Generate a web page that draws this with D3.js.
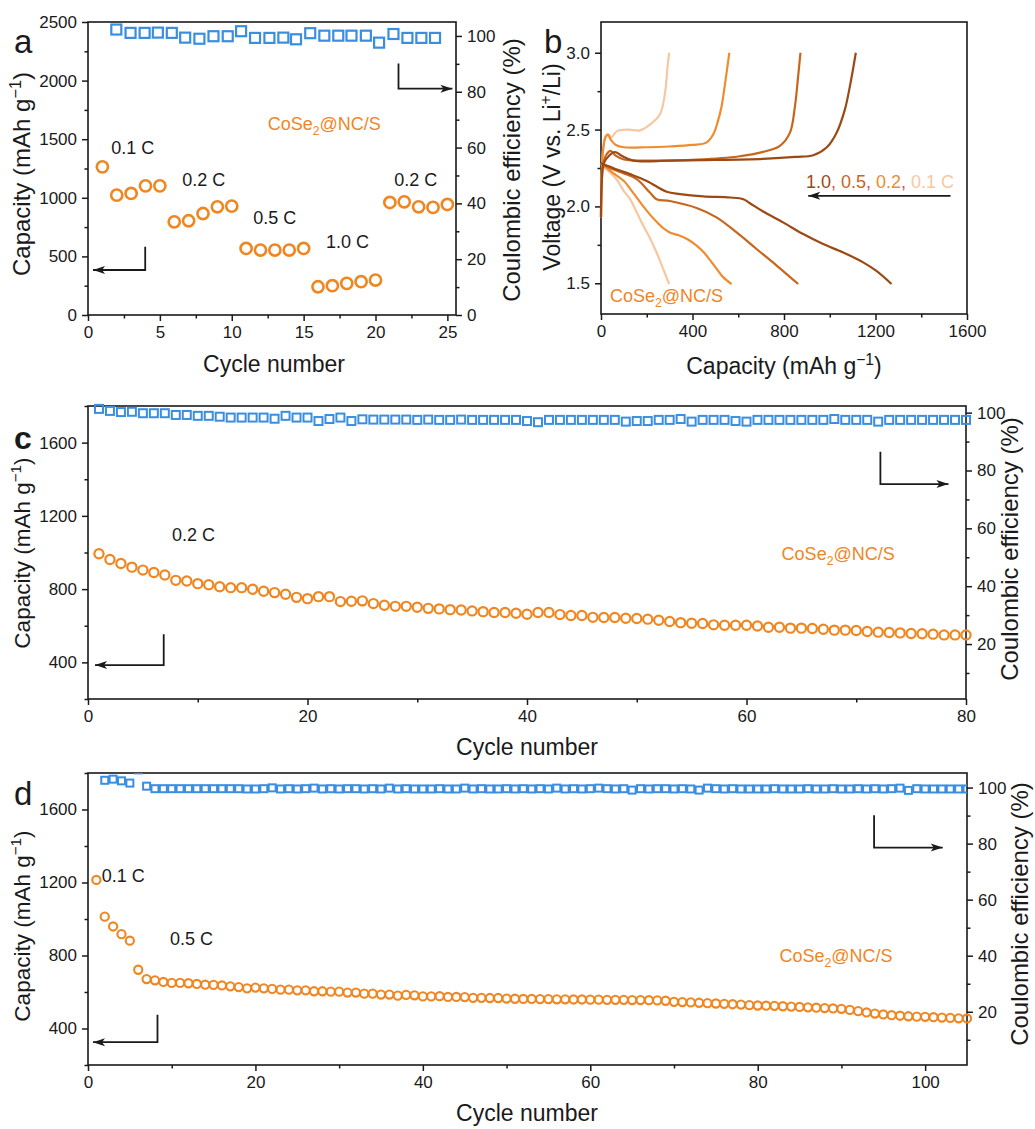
<!DOCTYPE html>
<html><head><meta charset="utf-8">
<script src="https://cdn.jsdelivr.net/npm/d3@7/dist/d3.min.js"></script>
<style>body{margin:0;background:#fff}svg{display:block}</style>
</head><body>
<svg id="fig" width="1035" height="1129"></svg>
<script>
// ---------------- DATA ----------------
// Panel a: rate performance
const cyclesA = d3.range(1, 26);
const capA = [1264,1023,1037,1102,1102,795,804,866,923,929,568,554,554,554,568,241,250,270,284,298,960,966,923,918,943];
const ceAx = [1.97,2.96,3.94,4.86,5.83,6.76,7.75,8.73,9.72,10.65,11.62,12.62,13.59,14.47,15.46,16.44,17.41,18.33,19.33,20.25,21.25,22.22,23.19,24.14];
const ceA = [102.3,101.1,101.1,101.2,101.1,99.4,99.0,99.9,99.9,101.7,99.3,99.3,99.4,98.8,101.0,100.1,100.1,100.1,100.1,97.6,100.7,99.3,99.3,99.3];
const rateLabelsA = ["0.1 C","0.2 C","0.5 C","1.0 C","0.2 C"];

// Panel b: charge/discharge profiles [capacity, voltage]
const rateNamesB = ["1.0","0.5","0.2","0.1 C"];
const charge10 = [[0,1.93],[3,2.15],[12,2.28],[35,2.33],[61,2.354],[90,2.33],[141,2.298],[300,2.298],[500,2.302],[709,2.31],[850,2.322],[928,2.333],[986,2.383],[1030,2.48],[1066,2.63],[1091,2.805],[1114,3.0]];
const discharge10 = [[0,2.28],[20,2.27],[60,2.245],[127,2.21],[200,2.166],[287,2.095],[345,2.08],[447,2.065],[564,2.058],[622,2.047],[651,2.021],[709,1.967],[796,1.896],[884,1.82],[971,1.755],[1059,1.70],[1146,1.636],[1204,1.58],[1270,1.495]];
const charge05 = [[0,1.93],[3,2.15],[10,2.28],[25,2.34],[42,2.361],[65,2.33],[100,2.305],[250,2.298],[420,2.305],[600,2.325],[709,2.355],[782,2.394],[826,2.48],[848,2.653],[862,2.85],[872,3.0]];
const discharge05 = [[0,2.28],[20,2.265],[54,2.24],[100,2.215],[156,2.177],[214,2.09],[243,2.047],[301,2.035],[418,1.99],[505,1.929],[593,1.831],[680,1.723],[768,1.615],[862,1.495]];
const charge02 = [[0,1.93],[3,2.2],[10,2.38],[20,2.45],[30,2.465],[45,2.43],[65,2.40],[100,2.385],[200,2.385],[300,2.39],[400,2.40],[460,2.415],[491,2.47],[512,2.56],[527,2.65],[549,2.87],[561,3.0]];
const discharge02 = [[0,2.28],[20,2.255],[60,2.21],[100,2.165],[140,2.09],[185,2.0],[215,1.945],[243,1.9],[275,1.855],[301,1.83],[340,1.812],[380,1.785],[418,1.745],[450,1.70],[476,1.652],[505,1.595],[534,1.54],[571,1.495]];
const charge01 = [[0,1.93],[3,2.2],[10,2.38],[20,2.46],[32,2.47],[45,2.45],[70,2.49],[120,2.5],[170,2.495],[215,2.534],[258,2.60],[280,2.74],[291,2.91],[298,3.0]];
const discharge01 = [[0,2.28],[10,2.26],[40,2.22],[68,2.177],[100,2.10],[127,2.047],[160,1.95],[185,1.874],[215,1.79],[243,1.70],[270,1.60],[298,1.495]];

// Panel c: 0.2 C cycling (80 cycles)
const cyclesC = d3.range(1, 81);
const capC = [993,962,940,920,904,891,877,848,844,830,
  824,813,808,808,799,788,781,772,755,748,
  759,759,732,734,736,721,712,706,706,701,
  695,692,688,686,681,677,672,672,668,663,
  672,672,661,656,656,646,645,645,641,640,
  636,630,623,617,614,612,605,603,603,603,
  599,592,592,587,587,585,581,576,576,574,
  569,565,563,561,558,556,554,550,550,550];
const ceC = [101.3,100.6,100.2,100.3,99.8,99.8,99.8,99.2,99.2,98.9,
  98.9,98.6,98.3,98.3,98.3,98.3,97.9,98.9,98.3,98.3,
  97.1,97.8,98.3,97.1,97.7,97.6,97.6,97.6,97.6,97.5,
  97.6,97.5,97.5,97.6,97.5,97.5,97.5,97.5,97.5,97.1,
  96.7,97.5,97.5,97.5,97.5,97.5,97.5,97.5,96.9,97.1,
  97.1,97.5,97.5,97.8,96.9,97.5,97.5,97.5,97.1,96.9,
  97.5,97.5,97.5,97.5,97.5,97.5,97.5,97.8,97.5,97.5,
  97.5,96.9,97.5,97.5,97.5,97.5,97.5,97.5,97.5,97.5];

// Panel d: 0.1 C activation then 0.5 C (105 cycles)
const cyclesD = d3.range(1, 106);
const capD = [1214,1013,959,917,881,722,671,664,655,650,
  650,648,644,640,639,636,631,627,620,624,
  620,617,613,613,609,609,604,604,602,602,
  597,597,591,591,586,586,580,584,582,576,
  576,577,573,573,572,568,568,567,567,564,
  563,562,562,561,561,560,560,559,559,558,
  558,557,557,557,556,556,555,554,552,546,
  545,543,541,539,537,535,533,531,528,526,
  525,524,522,520,518,516,514,512,510,508,
  502,495,488,482,477,473,470,467,465,464,
  462,460,458,456,455];
const ceCyclesD = d3.range(2, 106);
const ceD = [102.6,103.0,102.4,101.6,106.3,100.5,
  99.6,99.6,99.6,99.6,99.6,99.6,99.6,99.6,99.6,99.6,99.6,99.5,99.5,
  99.6,99.9,99.5,99.6,99.5,99.6,99.8,99.5,99.6,99.5,
  99.6,99.6,99.5,99.6,99.5,99.8,99.5,99.6,99.5,99.5,
  99.5,99.6,99.5,99.5,99.8,99.5,99.6,99.5,99.5,99.6,
  99.5,99.6,99.5,99.6,99.5,99.8,99.5,99.6,99.5,99.6,
  99.8,99.6,99.5,99.6,99.1,99.6,99.5,99.6,99.6,99.5,
  99.6,99.5,99.1,99.8,99.6,99.5,99.6,99.5,99.5,99.5,
  99.5,99.6,99.5,99.5,99.5,99.6,99.5,99.5,99.6,99.5,
  99.5,99.6,99.5,99.6,99.5,99.6,99.8,99.0,99.6,99.5,
  99.5,99.5,99.5,99.5,99.5];

// ---------------- STYLE ----------------
const FONT = '"Liberation Sans", Arial, Helvetica, sans-serif';
const ORANGE = "#F0861F", BLUE = "#3A8EE2", INK = "#1a1a1a";
const CB = {"1.0":"#9B4A14","0.5":"#C8661C","0.2":"#EE8C30","0.1 C":"#F7C8A0"};
const svg = d3.select("#fig").attr("font-family", FONT);

// parts: strings, or {t, dy} for sub/superscripts (shift undone on the next part)
function addText(g, x, y, parts, opt = {}) {
  const t = g.append("text").attr("x", x).attr("y", y)
    .attr("font-size", opt.size || 18).attr("fill", opt.fill || INK)
    .attr("text-anchor", opt.anchor || "start");
  if (opt.weight) t.attr("font-weight", opt.weight);
  if (opt.rotate) t.attr("transform", `rotate(${opt.rotate},${x},${y})`);
  let back = 0;
  parts.forEach(p => {
    if (typeof p === "string") {
      const s = t.append("tspan").text(p);
      if (back) { s.attr("dy", back); back = 0; }
    } else {
      t.append("tspan").attr("font-size", "68%").attr("dy", p.dy + back).text(p.t);
      back = -p.dy;
    }
  });
  return t;
}
function coseLabel(g, x, y) {
  return addText(g, x, y, ["CoSe", {t: "2", dy: 5}, "@NC/S"], {fill: ORANGE, size: 18});
}
const capTitle = ["Capacity (mAh g", {t: "\u22121", dy: -9}, ")"];

function frame(g, x, y) {
  const [x0, x1] = x.range(), [y0, y1] = y.range();
  g.append("rect").attr("x", x0).attr("y", y1).attr("width", x1 - x0).attr("height", y0 - y1)
    .attr("fill", "none").attr("stroke", INK).attr("stroke-width", 1.6);
}
function axis(g, gen, scale, major, minor, transform, fmt) {
  const a = g.append("g").attr("transform", transform);
  a.call(gen(scale).tickValues(minor).tickSize(3.5).tickFormat(""));
  a.select(".domain").remove();
  a.selectAll(".tick text").remove();
  const b = g.append("g").attr("transform", transform);
  b.call(gen(scale).tickValues(major).tickSize(6).tickPadding(5).tickFormat(fmt || (d => d)));
  b.select(".domain").remove();
  g.selectAll(".tick line").attr("stroke", INK).attr("stroke-width", 1.5);
  b.selectAll(".tick text").attr("font-size", 17).attr("fill", INK).attr("font-family", FONT);
  return b;
}
function arrowPath(g, pts) {
  g.append("path").attr("d", d3.line()(pts)).attr("fill", "none").attr("stroke", INK).attr("stroke-width", 1.8);
  const [tx, ty] = pts[pts.length - 1], [px] = pts[pts.length - 2];
  const dir = Math.sign(tx - px);
  g.append("path").attr("d", `M${tx},${ty} L${tx - dir * 12},${ty - 4} L${tx - dir * 9},${ty} L${tx - dir * 12},${ty + 4} Z`).attr("fill", INK);
}
function circles(g, xs, ys, x, y, r, sw) {
  g.append("g").selectAll("circle").data(ys).join("circle")
    .attr("cx", (d, i) => x(xs[i])).attr("cy", d => y(d)).attr("r", r)
    .attr("fill", "none").attr("stroke", ORANGE).attr("stroke-width", sw);
}
function squares(g, xs, ys, x, y, s, sw, clip) {
  const gg = g.append("g");
  if (clip) gg.attr("clip-path", `url(#${clip})`);
  gg.selectAll("rect").data(ys).join("rect")
    .attr("x", (d, i) => x(xs[i]) - s / 2).attr("y", d => y(d) - s / 2)
    .attr("width", s).attr("height", s)
    .attr("fill", "none").attr("stroke", BLUE).attr("stroke-width", sw);
}
function clipRect(id, x, y) {
  const [x0, x1] = x.range(), [y0, y1] = y.range();
  svg.append("clipPath").attr("id", id).append("rect").attr("x", x0).attr("y", y1).attr("width", x1 - x0).attr("height", y0 - y1);
}

// ---------------- PANEL A ----------------
{
  const g = svg.append("g");
  const x = d3.scaleLinear().domain([0, 25.6]).range([88, 456]);
  const y = d3.scaleLinear().domain([0, 2500]).range([315, 22]);
  const yR = d3.scaleLinear().domain([0, 105]).range([315, 22]);
  axis(g, d3.axisBottom, x, [0,5,10,15,20,25], [2.5,7.5,12.5,17.5,22.5], "translate(0,315)");
  axis(g, d3.axisLeft, y, [0,500,1000,1500,2000,2500], [250,750,1250,1750,2250], "translate(88,0)");
  axis(g, d3.axisRight, yR, [0,20,40,60,80,100], [10,30,50,70,90], "translate(456,0)");
  frame(g, x, y);
  squares(g, ceAx, ceA, x, yR, 10, 2.2);
  circles(g, cyclesA, capA, x, y, 5.6, 2.6);
  const labPos = [[1.62,1372],[6.55,1102],[11.5,773],[16.55,568],[21.3,1102]];
  rateLabelsA.forEach((t, i) => addText(g, x(labPos[i][0]), y(labPos[i][1]), [t]));
  coseLabel(g, x(12.5), y(1582));
  arrowPath(g, [[x(3.98), y(582)], [x(3.98), y(384)], [x(0.35), y(384)]]);
  arrowPath(g, [[x(21.6), yR(90.1)], [x(21.6), yR(81.1)], [x(25.35), yR(81.1)]]);
  addText(g, 30, 174, capTitle, {size: 24, anchor: "middle", rotate: -90});
  addText(g, 520, 170, ["Coulombic efficiency (%)"], {size: 24, anchor: "middle", rotate: -90});
  addText(g, 274, 372, ["Cycle number"], {size: 23, anchor: "middle"});
  addText(g, 14, 53, ["a"], {size: 33});
}

// ---------------- PANEL B ----------------
{
  const g = svg.append("g");
  const x = d3.scaleLinear().domain([0, 1600]).range([601, 967]);
  const y = d3.scaleLinear().domain([1.3, 3.2]).range([314, 22]);
  axis(g, d3.axisBottom, x, [0,400,800,1200,1600], [200,600,1000,1400], "translate(0,314)");
  axis(g, d3.axisLeft, y, [1.5,2.0,2.5,3.0], [1.75,2.25,2.75], "translate(601,0)", d3.format(".1f"));
  frame(g, x, y);
  const line = d3.line().x(d => x(d[0])).y(d => y(d[1])).curve(d3.curveCatmullRom.alpha(0.5));
  const curves = [[charge01, discharge01, "0.1 C"], [charge02, discharge02, "0.2"], [charge05, discharge05, "0.5"], [charge10, discharge10, "1.0"]];
  curves.forEach(([c, dch, k]) => {
    [c, dch].forEach(s => g.append("path").attr("d", line(s)).attr("fill", "none")
      .attr("stroke", CB[k]).attr("stroke-width", 2.2));
  });
  arrowPath(g, [[x(1528), y(2.069)], [x(906), y(2.069)]]);
  const t = g.append("text").attr("x", x(896)).attr("y", y(2.123)).attr("font-size", 18);
  rateNamesB.forEach((n, i) => {
    t.append("tspan").attr("fill", CB[n]).text(n);
    if (i < rateNamesB.length - 1) t.append("tspan").attr("fill", "#D0505A").text(", ");
  });
  coseLabel(g, x(39), y(1.38));
  addText(g, 560, 167, ["Voltage (V vs. Li", {t: "+", dy: -9}, "/Li)"], {size: 23, anchor: "middle", rotate: -90});
  addText(g, 784, 374, capTitle, {size: 23, anchor: "middle"});
  addText(g, 544, 53, ["b"], {size: 33});
}

// ---------------- PANEL C ----------------
{
  const g = svg.append("g");
  const x = d3.scaleLinear().domain([0, 80]).range([88, 966]);
  const y = d3.scaleLinear().domain([200, 1800]).range([699, 406]);
  const yR = d3.scaleLinear().domain([1, 102.3]).range([699, 406]);
  axis(g, d3.axisBottom, x, [0,20,40,60,80], [10,30,50,70], "translate(0,699)");
  axis(g, d3.axisLeft, y, [400,800,1200,1600], [200,600,1000,1400,1800], "translate(88,0)");
  axis(g, d3.axisRight, yR, [20,40,60,80,100], [10,30,50,70,90], "translate(966,0)");
  frame(g, x, y);
  squares(g, cyclesC, ceC, x, yR, 8, 2);
  circles(g, cyclesC, capC, x, y, 4.6, 2.2);
  addText(g, x(7.65), y(1062), ["0.2 C"]);
  coseLabel(g, x(63.2), yR(49.1));
  arrowPath(g, [[x(6.9), y(554)], [x(6.9), y(385)], [x(0.64), y(385)]]);
  arrowPath(g, [[x(72.2), yR(86.5)], [x(72.2), yR(75.3)], [x(78.4), yR(75.3)]]);
  addText(g, 30, 553, capTitle, {size: 22.5, anchor: "middle", rotate: -90});
  addText(g, 1018, 549, ["Coulombic efficiency (%)"], {size: 24, anchor: "middle", rotate: -90});
  addText(g, 527, 755, ["Cycle number"], {size: 23, anchor: "middle"});
  addText(g, 14, 449, ["c"], {size: 32, weight: "bold"});
}

// ---------------- PANEL D ----------------
{
  const g = svg.append("g");
  const x = d3.scaleLinear().domain([0, 105]).range([88, 967]);
  const y = d3.scaleLinear().domain([200, 1800]).range([1065, 773]);
  const yR = d3.scaleLinear().domain([1, 105.2]).range([1065, 773]);
  clipRect("clipD", x, y);
  axis(g, d3.axisBottom, x, [0,20,40,60,80,100], [10,30,50,70,90], "translate(0,1065)");
  axis(g, d3.axisLeft, y, [400,800,1200,1600], [200,600,1000,1400,1800], "translate(88,0)");
  axis(g, d3.axisRight, yR, [20,40,60,80,100], [10,30,50,70,90], "translate(967,0)");
  frame(g, x, y);
  squares(g, ceCyclesD, ceD, x, yR, 7, 2, "clipD");
  circles(g, cyclesD, capD, x, y, 4.1, 2.1);
  addText(g, x(1.63), y(1204), ["0.1 C"]);
  addText(g, x(9.8), y(859), ["0.5 C"]);
  coseLabel(g, x(82.6), yR(37.8));
  arrowPath(g, [[x(8.3), y(476)], [x(8.3), y(325)], [x(0.6), y(325)]]);
  arrowPath(g, [[x(93.9), yR(90.1)], [x(93.9), yR(78.6)], [x(102.1), yR(78.6)]]);
  addText(g, 30, 926, capTitle, {size: 22.5, anchor: "middle", rotate: -90});
  addText(g, 1028, 914, ["Coulombic efficiency (%)"], {size: 24, anchor: "middle", rotate: -90});
  addText(g, 527, 1121, ["Cycle number"], {size: 23, anchor: "middle"});
  addText(g, 14, 805, ["d"], {size: 33});
}
</script>
</body></html>
